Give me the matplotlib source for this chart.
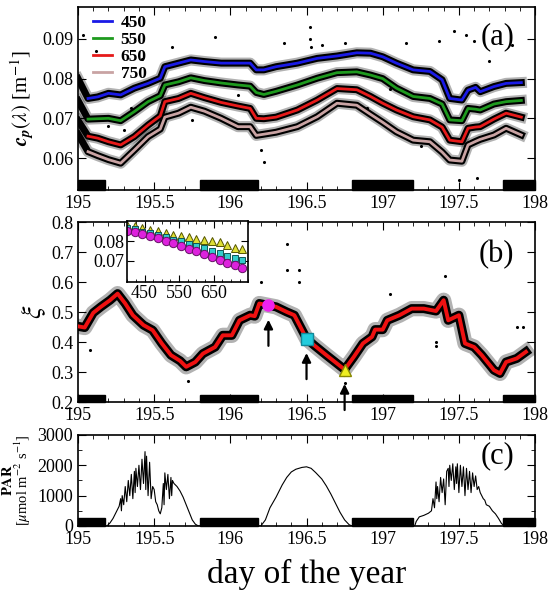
import matplotlib
matplotlib.use('Agg')
import matplotlib.pyplot as plt
from matplotlib.ticker import MultipleLocator

plt.rcParams['font.family'] = ['Liberation Serif', 'DejaVu Serif']
plt.rcParams['mathtext.fontset'] = 'stix'
plt.rcParams['font.size'] = 13

# ---- panel (a): particulate beam attenuation ----
day_a = [195.0, 195.066, 195.13, 195.20, 195.28, 195.37, 195.46, 195.54, 195.57, 195.66,
         195.74, 195.83, 195.94, 196.05, 196.13, 196.17, 196.22, 196.30, 196.44, 196.57,
         196.70, 196.83, 196.92, 197.00, 197.09, 197.20, 197.31, 197.39, 197.44, 197.52,
         197.56, 197.61, 197.64, 197.73, 197.81, 197.91]
cp_450 = [0.0800, 0.0750, 0.0754, 0.0763, 0.0759, 0.0776, 0.0788, 0.0801, 0.0830, 0.0839,
          0.0847, 0.0843, 0.0839, 0.0839, 0.0839, 0.0822, 0.0822, 0.0830, 0.0839, 0.0851,
          0.0857, 0.0865, 0.0864, 0.0855, 0.0839, 0.0822, 0.0818, 0.0797, 0.0750, 0.0746,
          0.0771, 0.0778, 0.0767, 0.0780, 0.0788, 0.0790]
cp_550 = [0.0745, 0.0698, 0.0699, 0.0700, 0.0694, 0.0717, 0.0742, 0.0757, 0.0784, 0.0792,
          0.0802, 0.0795, 0.0789, 0.0784, 0.0781, 0.0765, 0.0760, 0.0768, 0.0784, 0.0801,
          0.0815, 0.0817, 0.0809, 0.0800, 0.0776, 0.0755, 0.0750, 0.0736, 0.0696, 0.0694,
          0.0725, 0.0723, 0.0721, 0.0736, 0.0742, 0.0745]
cp_650 = [0.0695, 0.0655, 0.0650, 0.0641, 0.0633, 0.0654, 0.0683, 0.0706, 0.0742, 0.0750,
          0.0763, 0.0752, 0.0740, 0.0731, 0.0725, 0.0700, 0.0699, 0.0703, 0.0721, 0.0746,
          0.0775, 0.0772, 0.0755, 0.0738, 0.0721, 0.0704, 0.0696, 0.0678, 0.0645, 0.0641,
          0.0675, 0.0678, 0.0679, 0.0698, 0.0713, 0.0703]
cp_750 = [0.0660, 0.0616, 0.0606, 0.0596, 0.0587, 0.0620, 0.0654, 0.0673, 0.0703, 0.0713,
          0.0728, 0.0718, 0.0700, 0.0679, 0.0679, 0.0657, 0.0660, 0.0665, 0.0679, 0.0704,
          0.0738, 0.0733, 0.0710, 0.0690, 0.0666, 0.0645, 0.0641, 0.0615, 0.0595, 0.0592,
          0.0633, 0.0642, 0.0647, 0.0658, 0.0675, 0.0658]
outl_a_day = [195.03, 195.12, 195.30, 195.42, 195.62, 195.90, 196.20, 196.52, 196.52, 196.53,
              196.60, 196.75, 197.15, 197.37, 197.47, 197.55, 197.60, 197.62, 197.50, 197.85,
              197.25, 196.22, 195.20, 196.35, 195.35, 195.75, 196.05, 196.90, 197.05, 197.70]
outl_a_val = [0.0910, 0.0870, 0.0670, 0.0850, 0.0880, 0.0905, 0.0620, 0.0930, 0.0900, 0.0880,
              0.0885, 0.0890, 0.0890, 0.0895, 0.0920, 0.0910, 0.0895, 0.0550, 0.0545, 0.0885,
              0.0630, 0.0590, 0.0680, 0.0890, 0.0725, 0.0695, 0.0760, 0.0725, 0.0775, 0.0845]

# ---- panel (b): PSD slope ----
day_b = [195.0, 195.044, 195.10, 195.15, 195.21, 195.26, 195.31, 195.36, 195.43, 195.49,
         195.55, 195.61, 195.67, 195.71, 195.77, 195.82, 195.90, 195.95, 196.01, 196.06,
         196.13, 196.16, 196.19, 196.25, 196.30, 196.37, 196.42, 196.50, 196.55, 196.63,
         196.70, 196.75, 196.81, 196.87, 196.93, 196.95, 197.00, 197.03, 197.11, 197.19,
         197.27, 197.35, 197.40, 197.43, 197.50, 197.54, 197.60, 197.65, 197.73, 197.77,
         197.81, 197.88, 197.94]
xi = [0.453, 0.449, 0.498, 0.518, 0.540, 0.562, 0.529, 0.490, 0.457, 0.440,
      0.396, 0.357, 0.338, 0.318, 0.334, 0.362, 0.384, 0.423, 0.423, 0.473,
      0.490, 0.487, 0.529, 0.523, 0.518, 0.501, 0.490, 0.412, 0.390, 0.357,
      0.329, 0.309, 0.351, 0.396, 0.418, 0.442, 0.442, 0.473, 0.490, 0.512,
      0.512, 0.504, 0.540, 0.473, 0.490, 0.396, 0.384, 0.357, 0.307, 0.296,
      0.334, 0.346, 0.368]
outl_b_day = [196.37, 196.37, 196.45, 196.45, 197.35, 197.35, 195.08, 197.41, 197.88, 197.92,
              196.75, 195.72, 196.20, 197.05]
outl_b_val = [0.729, 0.640, 0.640, 0.600, 0.387, 0.400, 0.373, 0.620, 0.450, 0.450,
              0.265, 0.270, 0.600, 0.560]
mark_day = [196.25, 196.50, 196.75]
mark_xi = [0.523, 0.412, 0.309]

# inset: spectra at the three marked times
wl = [400, 422, 444, 467, 489, 511, 533, 556, 578, 600, 622, 644, 667, 689, 711, 733]
sp_tri = [0.0883, 0.0879, 0.0867, 0.0858, 0.0853, 0.0842, 0.0835, 0.0830, 0.0823, 0.0814,
          0.0809, 0.0800, 0.0795, 0.0779, 0.0765, 0.0760]
sp_sq = [0.0871, 0.0862, 0.0849, 0.0841, 0.0832, 0.0821, 0.0809, 0.0800, 0.0786, 0.0777,
         0.0765, 0.0751, 0.0739, 0.0726, 0.0713, 0.0704]
sp_circ = [0.0856, 0.0847, 0.0839, 0.0830, 0.0818, 0.0804, 0.0792, 0.0777, 0.0762, 0.0751,
           0.0734, 0.0721, 0.0704, 0.0686, 0.0677, 0.0663]

# ---- panel (c): PAR ----
day_c = [195.0, 195.19, 195.21, 195.23, 195.25, 195.27, 195.28, 195.285, 195.29, 195.30,
         195.31, 195.32, 195.33, 195.34, 195.35, 195.36, 195.37, 195.375, 195.38, 195.39,
         195.40, 195.41, 195.42, 195.43, 195.44, 195.445, 195.45, 195.46, 195.47, 195.48,
         195.49, 195.50, 195.51, 195.52, 195.53, 195.54, 195.55, 195.56, 195.565, 195.57,
         195.58, 195.59, 195.60, 195.61, 195.615, 195.62, 195.63, 195.65, 195.67, 195.69,
         195.71, 195.73, 195.75, 195.77, 195.79,
         196.20, 196.23, 196.26, 196.30, 196.34, 196.37, 196.40, 196.43, 196.47, 196.50,
         196.53, 196.56, 196.60, 196.63, 196.66, 196.69, 196.72, 196.75, 196.78, 196.80,
         197.21, 197.22, 197.24, 197.27, 197.30, 197.32, 197.33, 197.34, 197.35, 197.355,
         197.36, 197.37, 197.38, 197.39, 197.40, 197.41, 197.42, 197.43, 197.435, 197.44,
         197.45, 197.46, 197.47, 197.48, 197.485, 197.49, 197.50, 197.51, 197.52, 197.53,
         197.54, 197.55, 197.56, 197.57, 197.58, 197.59, 197.60, 197.61, 197.62, 197.63,
         197.64, 197.65, 197.66, 197.67, 197.68, 197.70, 197.72, 197.74, 197.76, 197.78,
         197.80, 198.0]
par = [0, 0, 100, 250, 450, 650, 900, 500, 1000, 700,
       1300, 800, 1500, 1000, 1700, 900, 1800, 1100, 1900, 1300,
       2000, 1200, 2200, 1400, 2450, 1200, 2300, 1000, 2100, 900,
       1300, 1200, 800, 700, 500, 400, 600, 1400, 700, 1750,
       1200, 1700, 900, 1600, 1000, 1500, 1400, 1300, 1150, 950,
       700, 450, 200, 60, 0,
       0, 200, 600, 950, 1350, 1600, 1780, 1870, 1930, 1950,
       1900, 1760, 1550, 1320, 1050, 750, 450, 200, 40, 0,
       0, 150, 300, 350, 420, 500, 900, 600, 1450, 900,
       1300, 800, 1600, 1100, 1550, 700, 1800, 1900, 1300, 2000,
       1500, 2050, 1200, 1950, 1400, 2050, 1100, 2000, 1300, 1950,
       1000, 1900, 1200, 1800, 1100, 1750, 1300, 1650, 1200, 1300,
       1100, 1000, 900, 850, 700, 650, 500, 400, 250, 80,
       0, 0]

nights = [(195.0, 195.18), (195.8, 196.18), (196.8, 197.2), (197.79, 198.0)]


def style_axis(ax, ymaj, ymin=None):
    ax.set_xlim(195, 198)
    ax.xaxis.set_major_locator(MultipleLocator(0.5))
    ax.xaxis.set_minor_locator(MultipleLocator(0.1))
    ax.yaxis.set_major_locator(MultipleLocator(ymaj))
    if ymin:
        ax.yaxis.set_minor_locator(MultipleLocator(ymin))
    ax.tick_params(which='both', direction='in', top=True, right=True, labelsize=13)
    ax.tick_params(which='major', length=6)
    ax.tick_params(which='minor', length=3)
    ax.set_xticks([195, 195.5, 196, 196.5, 197, 197.5, 198])
    ax.set_xticklabels(['195', '195.5', '196', '196.5', '197', '197.5', '198'])
    for s in ax.spines.values():
        s.set_linewidth(1.2)


def night_bars(ax, y0, h):
    for a, b in nights:
        ax.add_patch(plt.Rectangle((a, y0), b - a, h, color='black', zorder=5, clip_on=False))


fig = plt.figure(figsize=(5.52, 5.95), dpi=100)

# (a)
ax1 = fig.add_axes([0.1413, 0.681, 0.828, 0.307])
series = [(cp_450, '#1a1ae6', '450'), (cp_550, '#1e9a1e', '550'),
          (cp_650, '#e61a1a', '650'), (cp_750, '#c9a3a3', '750')]
for vals, col, lab in series:
    # dense cloud of raw samples around the smoothed curve
    ax1.plot(day_a, vals, color='black', lw=8, alpha=0.3, zorder=1)
    ax1.plot(day_a, vals, color='black', lw=5, zorder=1)
for vals, col, lab in series:
    ax1.plot(day_a[1:], vals[1:], color=col, lw=2, label=lab, zorder=3)
ax1.scatter(outl_a_day, outl_a_val, s=1.5, color='black', zorder=2)
ax1.set_ylim(0.052, 0.098)
style_axis(ax1, 0.01)
ax1.set_yticks([0.06, 0.07, 0.08, 0.09])
night_bars(ax1, 0.052, 0.0025)
ax1.set_ylabel(r'$\boldsymbol{c}_{\boldsymbol{p}}(\lambda)$ [m$^{-1}$]', fontsize=15, labelpad=4)
leg = ax1.legend(loc='upper left', frameon=False, handlelength=1.1, handletextpad=0.5,
                 labelspacing=0.05, borderpad=0.2, borderaxespad=0.0,
                 bbox_to_anchor=(0.025, 0.975), prop={'weight': 'bold', 'size': 12.5})
leg.set_zorder(10)
ax1.text(0.955, 0.92, '(a)', transform=ax1.transAxes, ha='right', va='top', fontsize=22)

# (b)
ax2 = fig.add_axes([0.1413, 0.324, 0.828, 0.3025])
ax2.plot(day_b, xi, color='black', lw=11, alpha=0.3, zorder=1)
ax2.plot(day_b, xi, color='black', lw=6.5, zorder=1)
ax2.plot(day_b, xi, color='#ee1111', lw=2.8, zorder=3)
ax2.scatter(outl_b_day, outl_b_val, s=1.5, color='black', zorder=2)
ax2.plot(mark_day[0], mark_xi[0], 'o', ms=8, mfc='#ee22ee', mec='#ee22ee', zorder=6)
ax2.plot(mark_day[1], mark_xi[1], 's', ms=8, mfc='#22ccdd', mec='#118899', zorder=6)
ax2.plot(mark_day[2], mark_xi[2], '^', ms=8, mfc='#eeee22', mec='#888800', zorder=6)
for d, v in zip(mark_day, mark_xi):
    ax2.annotate('', xy=(d, v - 0.048), xytext=(d, v - 0.135),
                 arrowprops=dict(arrowstyle='-|>', color='black', lw=1.6, mutation_scale=13,
                                 shrinkA=0, shrinkB=0),
                 annotation_clip=False, zorder=7)
ax2.set_ylim(0.2, 0.8)
style_axis(ax2, 0.1)
night_bars(ax2, 0.2, 0.023)
ax2.set_ylabel(r'$\xi$', fontsize=20, labelpad=2)
ax2.text(0.955, 0.90, '(b)', transform=ax2.transAxes, ha='right', va='top', fontsize=22)

# inset
axi = fig.add_axes([0.2306, 0.526, 0.219, 0.1025])
axi.plot(wl, sp_tri, '^', ms=5.5, mfc='#dddd33', mec='#555500', mew=0.7, ls='none')
axi.plot(wl, sp_sq, 's', ms=5, mfc='#33cccc', mec='#115555', mew=0.7, ls='none')
axi.plot(wl, sp_circ, 'o', ms=6, mfc='#dd22dd', mec='#661166', mew=0.7, ls='none')
axi.set_xlim(400, 750)
axi.set_ylim(0.059, 0.0905)
axi.set_xticks([450, 550, 650])
axi.xaxis.set_minor_locator(MultipleLocator(25))
axi.set_yticks([0.07, 0.08])
axi.tick_params(which='both', direction='in', top=True, right=True, labelsize=13, pad=2)
axi.tick_params(which='major', length=5)
axi.tick_params(which='minor', length=2.5)
for s in axi.spines.values():
    s.set_linewidth(1.2)

# (c)
ax3 = fig.add_axes([0.1413, 0.116, 0.828, 0.153])
ax3.plot(day_c, par, color='black', lw=0.8)
ax3.set_ylim(0, 3000)
style_axis(ax3, 1000, 500)
night_bars(ax3, 0, 250)
ax3.set_ylabel('$\\mathbf{PAR}$\n[$\\mu$mol m$^{-2}$ s$^{-1}$]', fontsize=10.5,
               linespacing=0.85)
ax3.yaxis.set_label_coords(-0.098, 0.5)
ax3.text(0.955, 0.93, '(c)', transform=ax3.transAxes, ha='right', va='top', fontsize=22)
ax3.set_xlabel('day of the year', fontsize=24, labelpad=8)

fig.savefig('out.png', dpi=100)
